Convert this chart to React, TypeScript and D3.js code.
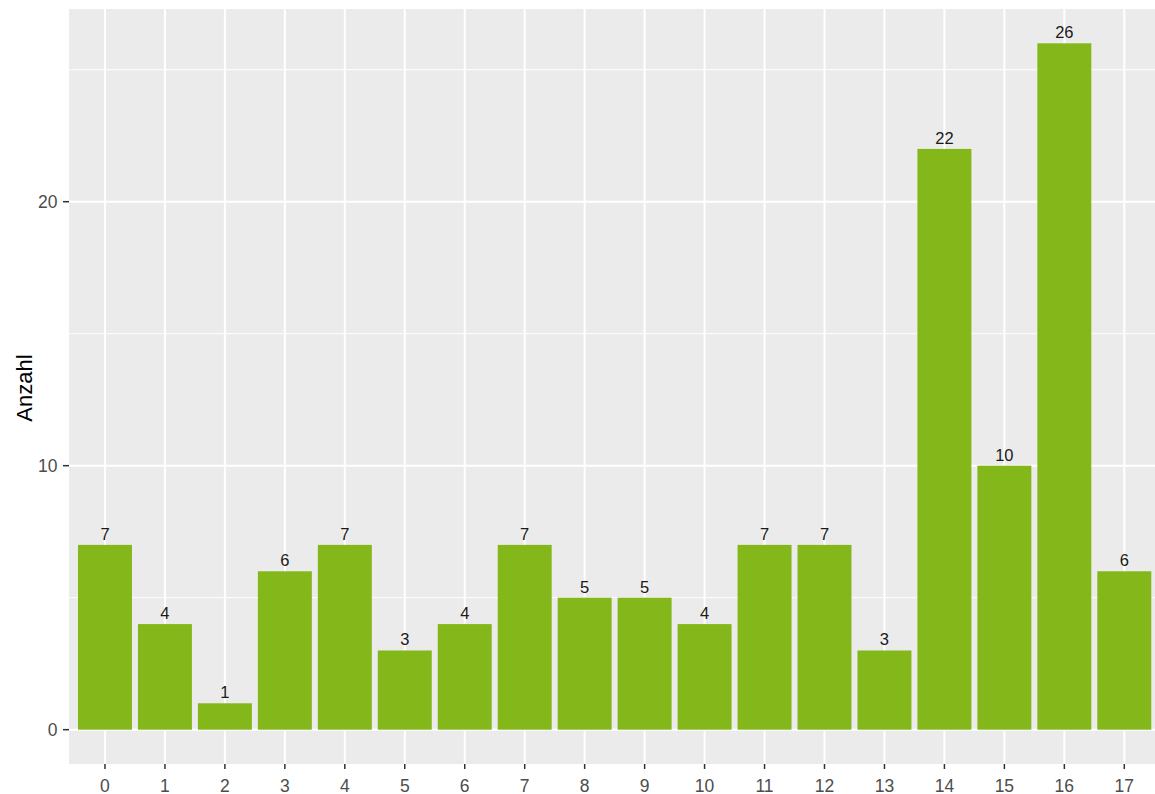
import React from "react";
import * as d3 from "d3";

const categories: string[] = ["0","1","2","3","4","5","6","7","8","9","10","11","12","13","14","15","16","17"];
const counts: number[] = [7, 4, 1, 6, 7, 3, 4, 7, 5, 5, 4, 7, 7, 3, 22, 10, 26, 6];
const yMajorTicks: number[] = [0, 10, 20];
const yMinorTicks: number[] = [5, 15, 25];
const yTitle = "Anzahl";

const W = 1155;
const H = 794;
const panel = { left: 69, top: 9, bottom: 764, step: 59.96 };
const FONT = "'Liberation Sans', Arial, Helvetica, sans-serif";

export default function App() {
  const n = categories.length;
  const x = d3
    .scaleLinear()
    .domain([-0.6, n - 1 + 0.6])
    .range([panel.left, panel.left + (n - 1 + 1.2) * panel.step]);
  const yMax = d3.max(counts) as number;
  const pad = yMax * 0.05;
  const y = d3.scaleLinear().domain([-pad, yMax + pad]).range([panel.bottom, panel.top]);
  const right = x(n - 1 + 0.6);
  const barW = 0.9 * panel.step;

  return (
    <svg
      width={W}
      height={H}
      style={{ position: "absolute", left: 0, top: 0, background: "#fff" }}
      fontFamily={FONT}
    >
      <rect x={panel.left} y={panel.top} width={right - panel.left} height={panel.bottom - panel.top} fill="#EBEBEB" />
      {yMinorTicks.map((t) => (
        <line key={"ym" + t} x1={panel.left} x2={right} y1={y(t)} y2={y(t)} stroke="#fff" strokeWidth={1} />
      ))}
      {yMajorTicks.map((t) => (
        <line key={"yM" + t} x1={panel.left} x2={right} y1={y(t)} y2={y(t)} stroke="#fff" strokeWidth={2} />
      ))}
      {categories.map((c, i) => (
        <line key={"xg" + c} x1={x(i)} x2={x(i)} y1={panel.top} y2={panel.bottom} stroke="#fff" strokeWidth={2} />
      ))}
      {counts.map((v, i) => (
        <rect key={"b" + i} x={x(i) - barW / 2} y={y(v)} width={barW} height={y(0) - y(v)} fill="#84B71A" />
      ))}
      {counts.map((v, i) => (
        <text key={"l" + i} x={x(i)} y={y(v) - 5} textAnchor="middle" fontSize={16.5} fill="#1A1A1A">
          {v}
        </text>
      ))}
      {yMajorTicks.map((t) => (
        <g key={"yt" + t}>
          <line x1={panel.left - 6} x2={panel.left} y1={y(t)} y2={y(t)} stroke="#333" strokeWidth={1.5} />
          <text x={panel.left - 11.5} y={y(t)} dy="0.36em" textAnchor="end" fontSize={17.5} fill="#4D4D4D">
            {t}
          </text>
        </g>
      ))}
      {categories.map((c, i) => (
        <g key={"xt" + c}>
          <line x1={x(i)} x2={x(i)} y1={panel.bottom} y2={panel.bottom + 5} stroke="#333" strokeWidth={1.5} />
          <text x={x(i)} y={panel.bottom + 27.5} textAnchor="middle" fontSize={17.5} fill="#4D4D4D">
            {c}
          </text>
        </g>
      ))}
      <text
        transform={`translate(31.5,${(panel.top + panel.bottom) / 2 + 1.5}) rotate(-90)`}
        textAnchor="middle"
        fontSize={22}
        fill="#000"
      >
        {yTitle}
      </text>
    </svg>
  );
}
